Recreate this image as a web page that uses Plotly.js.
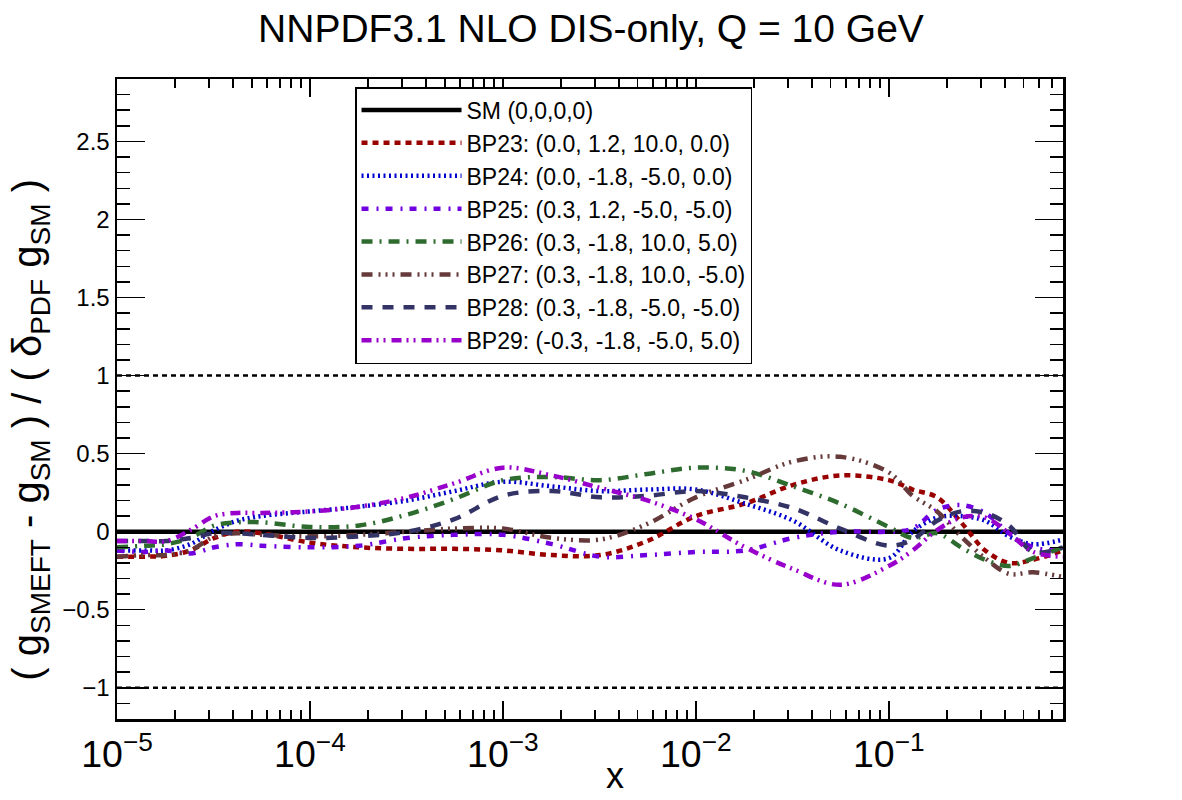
<!DOCTYPE html>
<html>
<head>
<meta charset="utf-8">
<script src="https://cdn.plot.ly/plotly-3.0.1.min.js"></script>
<style>
  html, body { margin: 0; padding: 0; background: #ffffff; }
  #chart { width: 1182px; height: 800px; }
</style>
</head>
<body>
<div id="chart"></div>
<script>
// Momentum fraction grid (log-spaced sampling points)
const xGrid = [1e-5, 1.4e-5, 1.8e-5, 2.4e-5, 3.2e-5, 4.2e-5, 5.6e-5, 1e-4, 1.8e-4, 3.2e-4,
               5.6e-4, 1e-3, 1.8e-3, 3.2e-3, 5.6e-3, 1e-2, 0.018, 0.032, 0.056, 0.1,
               0.133, 0.178, 0.237, 0.316, 0.42, 0.56, 0.8];

// Standard Model reference (zero shift)
const smValues = xGrid.map(() => 0);

// Benchmark points: (g_SMEFT - g_SM) / (delta_PDF g_SM)
const bp23 = [-0.16, -0.16, -0.155, -0.12, -0.04, 0.0, -0.01, -0.07, -0.10, -0.11,
              -0.11, -0.12, -0.15, -0.15, -0.06, 0.10, 0.18, 0.30, 0.36, 0.33,
              0.27, 0.22, 0.06, -0.12, -0.20, -0.18, -0.12];
const bp24 = [-0.12, -0.12, -0.12, -0.08, 0.01, 0.07, 0.10, 0.13, 0.16, 0.20,
              0.26, 0.32, 0.29, 0.26, 0.27, 0.27, 0.18, 0.07, -0.12, -0.17,
              0.0, 0.09, 0.10, 0.07, -0.03, -0.08, -0.05];
const bp25 = [-0.12, -0.13, -0.12, -0.14, -0.10, -0.08, -0.09, -0.10, -0.09, -0.04,
              -0.02, -0.02, -0.08, -0.16, -0.15, -0.13, -0.12, -0.04, 0.0, 0.0,
              0.02, 0.14, 0.17, 0.12, -0.01, -0.10, -0.12];
const bp26 = [-0.10, -0.09, -0.08, -0.04, 0.04, 0.06, 0.06, 0.03, 0.04, 0.11,
              0.21, 0.33, 0.35, 0.33, 0.37, 0.41, 0.39, 0.29, 0.18, 0.03,
              -0.04, -0.01, -0.10, -0.18, -0.22, -0.17, -0.10];
const bp27 = [-0.16, -0.15, -0.15, -0.12, -0.03, -0.01, -0.02, -0.03, -0.02, 0.0,
              0.02, 0.02, -0.04, -0.05, 0.05, 0.22, 0.33, 0.45, 0.48, 0.38,
              0.23, 0.13, -0.03, -0.17, -0.27, -0.26, -0.29];
const bp28 = [-0.06, -0.06, -0.06, -0.04, -0.01, -0.01, -0.02, -0.04, -0.03, 0.0,
              0.08, 0.23, 0.26, 0.22, 0.23, 0.26, 0.22, 0.15, 0.02, -0.09,
              -0.05, 0.07, 0.13, 0.12, 0.04, -0.13, -0.10];
const bp29 = [-0.06, -0.06, -0.06, 0.01, 0.10, 0.12, 0.12, 0.13, 0.16, 0.22,
              0.31, 0.41, 0.36, 0.28, 0.20, 0.08, -0.10, -0.24, -0.34, -0.22,
              -0.12, 0.01, 0.09, 0.09, -0.01, -0.13, -0.16];

// Legend labels: (C1, C2, C3, C4) coefficients of each benchmark
const seriesNames = [
  "SM (0,0,0,0)",
  "BP23: (0.0, 1.2, 10.0, 0.0)",
  "BP24: (0.0, -1.8, -5.0, 0.0)",
  "BP25: (0.3, 1.2, -5.0, -5.0)",
  "BP26: (0.3, -1.8, 10.0, 5.0)",
  "BP27: (0.3, -1.8, 10.0, -5.0)",
  "BP28: (0.3, -1.8, -5.0, -5.0)",
  "BP29: (-0.3, -1.8, -5.0, 5.0)"
];
const seriesValues = [smValues, bp23, bp24, bp25, bp26, bp27, bp28, bp29];

// PDF uncertainty band edges (+/- 1 sigma)
const bandLevels = [1, -1];

const lineStyles = [
  { color: "#000000", dash: "solid", width: 4.5 },
  { color: "#990000", dash: "6px,5px", width: 4.5 },
  { color: "#0000cc", dash: "2px,3.5px", width: 4.5 },
  { color: "#7000e0", dash: "7px,8px,2px,7px", width: 4.5 },
  { color: "#2e6b2e", dash: "11px,7px,2px,7px", width: 4.5 },
  { color: "#663a3a", dash: "11px,6px,2px,5px,2px,5px,2px,6px", width: 4.5 },
  { color: "#333366", dash: "11px,10px", width: 4.5 },
  { color: "#9900cc", dash: "10px,5px,2px,5px,2px,6px", width: 4.5 }
];

const xEnds = [xGrid[0], xGrid[xGrid.length - 1]];
const traces = [];

bandLevels.forEach(level => {
  traces.push({
    x: xEnds, y: xEnds.map(() => level),
    mode: "lines", showlegend: false, hoverinfo: "skip",
    line: { color: "#000000", width: 2.5, dash: "5px,4px" }
  });
});

seriesValues.forEach((vals, i) => {
  traces.push({
    x: xGrid, y: vals, name: seriesNames[i],
    mode: "lines",
    line: Object.assign({ shape: i === 0 ? "linear" : "spline", smoothing: 1.0 }, lineStyles[i])
  });
});

const font = "'Liberation Sans', Arial, Helvetica, sans-serif";

const layout = {
  width: 1182, height: 800,
  margin: { l: 117, r: 119, t: 79, b: 81 },
  paper_bgcolor: "#ffffff", plot_bgcolor: "#ffffff",
  font: { family: font, color: "#000000" },
  title: {
    text: "NNPDF3.1 NLO DIS-only, Q = 10 GeV",
    font: { size: 39, family: font, color: "#000000" },
    x: 0.5, xanchor: "center", y: 0.965, yanchor: "middle"
  },
  xaxis: {
    type: "log",
    range: [-5, Math.log10(0.8)],
    dtick: 1,
    exponentformat: "power",
    showgrid: false, zeroline: false,
    showline: true, linecolor: "#000000", linewidth: 2.5, mirror: "ticks",
    ticks: "inside", ticklen: 18, tickwidth: 1.5, tickcolor: "#000000",
    ticklabelstandoff: 2,
    tickfont: { size: 30, family: font },
    minor: { ticks: "inside", ticklen: 9, tickwidth: 1.5, tickcolor: "#000000", dtick: "D1", showgrid: false },
    title: { text: "" }
  },
  yaxis: {
    range: [-1.2, 2.9],
    tick0: 0, dtick: 0.5,
    showgrid: false, zeroline: false,
    showline: true, linecolor: "#000000", linewidth: 2.5, mirror: "ticks",
    ticks: "inside", ticklen: 28, tickwidth: 1.5, tickcolor: "#000000",
    tickfont: { size: 24, family: font },
    minor: { ticks: "inside", ticklen: 13, tickwidth: 1.5, tickcolor: "#000000", dtick: 0.1, showgrid: false },
    title: { text: "" }
  },
  annotations: [
    {
      text: "( g<sub>SMEFT</sub> - g<sub>SM</sub> ) / ( δ<sub>PDF</sub> g<sub>SM</sub> )",
      textangle: -90,
      xref: "paper", yref: "paper",
      x: -0.092, y: 0.452,
      xanchor: "center", yanchor: "middle",
      showarrow: false,
      font: { size: 40, family: font, color: "#000000" }
    },
    {
      text: "x",
      xref: "paper", yref: "paper",
      x: 0.526, y: -0.124,
      xanchor: "center", yanchor: "bottom",
      showarrow: false,
      font: { size: 36, family: font, color: "#000000" }
    }
  ],
  legend: {
    x: 0.2516, y: 0.9875, xanchor: "left", yanchor: "top",
    bgcolor: "#ffffff", bordercolor: "#000000", borderwidth: 1.5,
    font: { size: 23, family: font, color: "#000000" },
    itemwidth: 100,
    tracegroupgap: 0
  },
  showlegend: true
};

Plotly.newPlot("chart", traces, layout, { displayModeBar: false, staticPlot: true });
</script>
</body>
</html>
